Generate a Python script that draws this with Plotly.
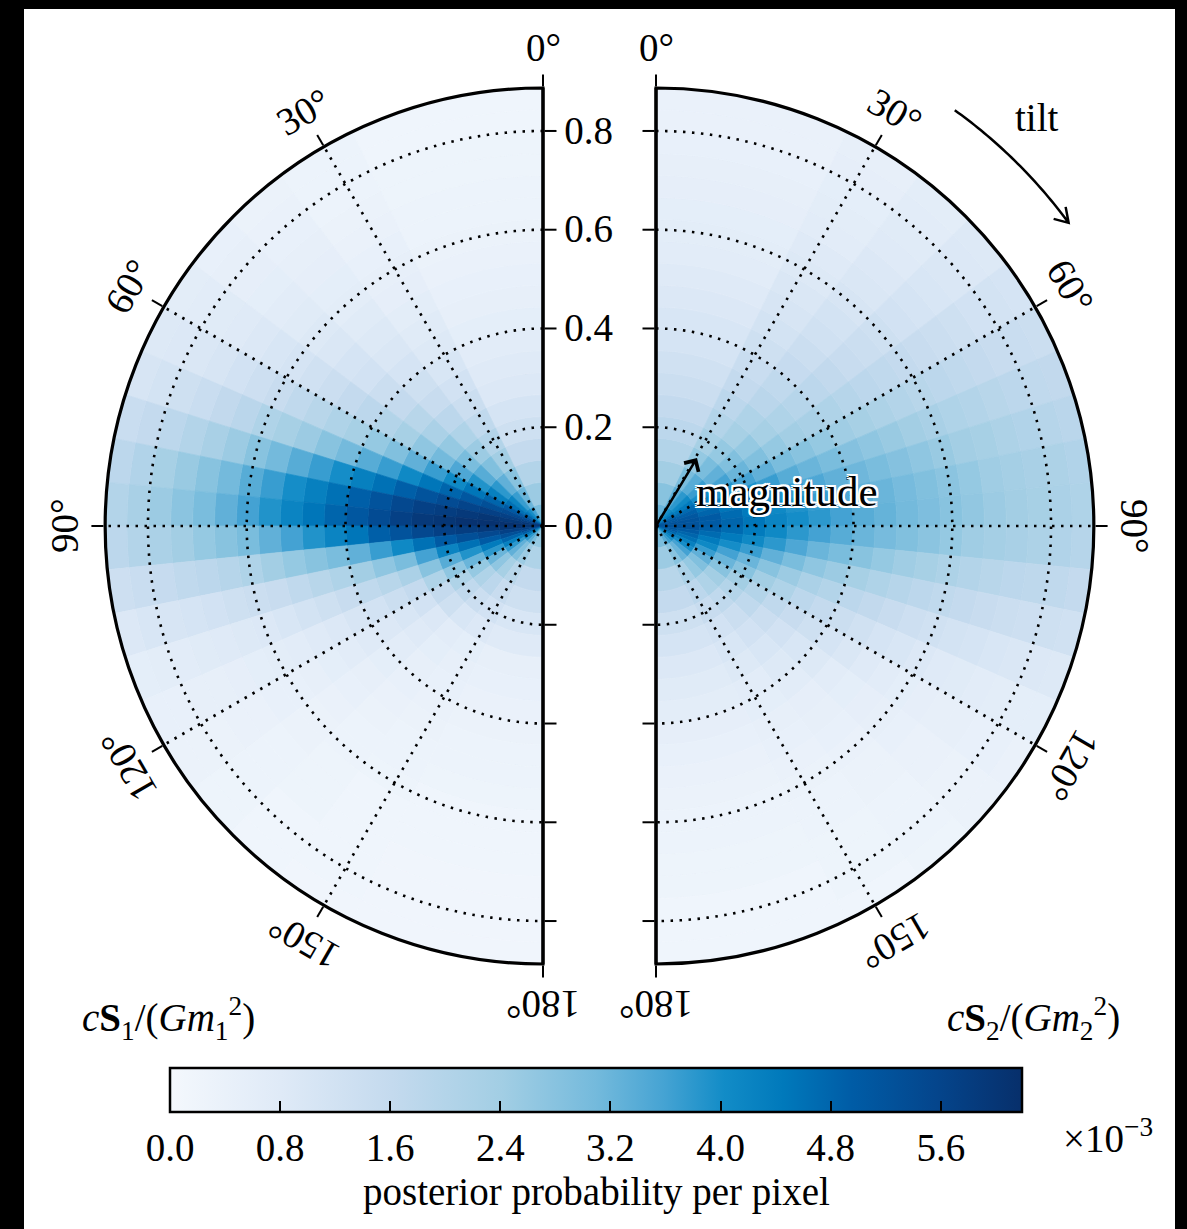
import numpy as np
import plotly.graph_objects as go
from plotly.colors import sample_colorscale

W, H = 1187, 1229

# ---------------- data ----------------
# pixel edges: uniform in cos(tilt) and in spin magnitude
cos_tilt_edges = [1.0, 0.9, 0.8, 0.7, 0.6, 0.5, 0.4, 0.3, 0.2, 0.1, 0.0,
                  -0.1, -0.2, -0.3, -0.4, -0.5, -0.6, -0.7, -0.8, -0.9, -1.0]
mag_max = 0.887
n_mag_bins = 20

# posterior probability per pixel (x 1e-3); rows = magnitude bins (inner->outer),
# columns = tilt bins (0 deg -> 180 deg)
s1_prob_e3 = [
    [3.0, 3.6, 4.0, 4.4, 4.8, 5.1, 5.4, 5.7, 5.9, 6.0, 5.9, 5.7, 5.4, 5.0, 4.6, 4.2, 3.8, 3.4, 3.0, 2.6],
    [2.5, 3.2, 3.7, 4.2, 4.6, 5.0, 5.4, 5.7, 5.9, 6.1, 6.0, 5.7, 5.3, 4.8, 4.3, 3.8, 3.3, 2.9, 2.5, 2.1],
    [2.0, 2.8, 3.3, 3.8, 4.3, 4.8, 5.3, 5.7, 6.0, 6.1, 5.9, 5.5, 5.0, 4.4, 3.8, 3.2, 2.7, 2.3, 1.9, 1.6],
    [1.6, 2.4, 2.9, 3.4, 3.9, 4.5, 5.1, 5.6, 5.9, 6.1, 5.8, 5.3, 4.6, 3.9, 3.2, 2.6, 2.1, 1.8, 1.5, 1.3],
    [1.3, 2.0, 2.5, 3.0, 3.5, 4.1, 4.8, 5.4, 5.8, 6.0, 5.7, 5.0, 4.2, 3.4, 2.7, 2.1, 1.7, 1.4, 1.2, 1.0],
    [1.1, 1.7, 2.1, 2.6, 3.1, 3.7, 4.5, 5.2, 5.7, 5.9, 5.5, 4.6, 3.6, 2.8, 2.1, 1.6, 1.3, 1.0, 0.9, 0.8],
    [0.9, 1.4, 1.8, 2.2, 2.7, 3.3, 4.1, 4.9, 5.5, 5.7, 5.2, 4.1, 3.0, 2.2, 1.6, 1.2, 0.9, 0.7, 0.6, 0.5],
    [0.8, 1.2, 1.5, 1.9, 2.3, 2.9, 3.7, 4.6, 5.2, 5.4, 4.9, 3.7, 2.7, 1.9, 1.4, 1.0, 0.8, 0.6, 0.5, 0.45],
    [0.7, 1.0, 1.3, 1.6, 2.0, 2.6, 3.4, 4.3, 4.9, 5.1, 4.5, 3.3, 2.4, 1.7, 1.2, 0.9, 0.7, 0.5, 0.45, 0.4],
    [0.6, 0.85, 1.1, 1.4, 1.8, 2.3, 3.1, 4.0, 4.6, 4.8, 4.2, 3.0, 2.1, 1.5, 1.05, 0.8, 0.6, 0.45, 0.4, 0.35],
    [0.5, 0.75, 0.95, 1.2, 1.6, 2.1, 2.8, 3.7, 4.3, 4.5, 3.9, 2.8, 1.9, 1.3, 0.9, 0.7, 0.5, 0.4, 0.35, 0.3],
    [0.45, 0.65, 0.85, 1.1, 1.4, 1.9, 2.5, 3.4, 4.0, 4.2, 3.6, 2.6, 1.7, 1.15, 0.8, 0.6, 0.45, 0.35, 0.3, 0.3],
    [0.4, 0.55, 0.75, 0.95, 1.25, 1.7, 2.3, 3.1, 3.7, 3.9, 3.3, 2.4, 1.5, 1.0, 0.7, 0.5, 0.4, 0.3, 0.3, 0.25],
    [0.35, 0.5, 0.65, 0.85, 1.1, 1.5, 2.1, 2.8, 3.4, 3.6, 3.0, 2.1, 1.4, 0.9, 0.65, 0.45, 0.35, 0.3, 0.25, 0.2],
    [0.3, 0.45, 0.6, 0.75, 1.0, 1.35, 1.85, 2.5, 3.1, 3.3, 2.8, 1.95, 1.3, 0.85, 0.6, 0.45, 0.35, 0.25, 0.2, 0.2],
    [0.3, 0.4, 0.55, 0.7, 0.9, 1.2, 1.65, 2.25, 2.8, 3.0, 2.6, 1.8, 1.2, 0.8, 0.55, 0.4, 0.3, 0.25, 0.2, 0.2],
    [0.25, 0.35, 0.5, 0.6, 0.8, 1.05, 1.45, 2.0, 2.55, 2.75, 2.4, 1.7, 1.1, 0.75, 0.5, 0.4, 0.3, 0.25, 0.2, 0.15],
    [0.25, 0.3, 0.45, 0.55, 0.75, 0.95, 1.3, 1.8, 2.3, 2.5, 2.2, 1.55, 1.05, 0.7, 0.5, 0.35, 0.3, 0.2, 0.2, 0.15],
    [0.2, 0.3, 0.4, 0.5, 0.7, 0.9, 1.15, 1.6, 2.05, 2.25, 2.0, 1.45, 1.0, 0.65, 0.45, 0.35, 0.25, 0.2, 0.2, 0.15],
    [0.2, 0.3, 0.35, 0.45, 0.65, 0.85, 1.05, 1.45, 1.8, 2.0, 1.8, 1.35, 0.9, 0.6, 0.45, 0.35, 0.25, 0.2, 0.15, 0.15],
]

s2_prob_e3 = [
    [3.2, 3.7, 4.0, 4.3, 4.6, 4.8, 5.0, 5.1, 5.2, 5.2, 5.2, 5.1, 5.0, 4.8, 4.6, 4.3, 4.0, 3.7, 3.4, 3.0],
    [2.8, 3.4, 3.8, 4.1, 4.4, 4.7, 4.9, 5.1, 5.2, 5.2, 5.2, 5.0, 4.8, 4.6, 4.3, 4.0, 3.6, 3.2, 2.8, 2.5],
    [2.4, 3.0, 3.4, 3.7, 4.0, 4.3, 4.6, 4.8, 5.0, 5.0, 4.9, 4.7, 4.4, 4.1, 3.7, 3.3, 2.9, 2.6, 2.2, 1.9],
    [2.0, 2.6, 3.0, 3.3, 3.6, 3.9, 4.3, 4.5, 4.7, 4.8, 4.7, 4.4, 4.0, 3.6, 3.2, 2.8, 2.4, 2.1, 1.8, 1.6],
    [1.8, 2.3, 2.6, 2.9, 3.2, 3.6, 4.0, 4.2, 4.4, 4.5, 4.4, 4.1, 3.7, 3.2, 2.8, 2.4, 2.0, 1.7, 1.5, 1.3],
    [1.6, 2.0, 2.3, 2.6, 2.9, 3.3, 3.7, 3.9, 4.1, 4.2, 4.1, 3.8, 3.3, 2.8, 2.4, 2.0, 1.7, 1.4, 1.2, 1.1],
    [1.4, 1.8, 2.1, 2.3, 2.6, 3.0, 3.4, 3.7, 3.9, 4.0, 3.8, 3.5, 3.0, 2.5, 2.1, 1.7, 1.4, 1.2, 1.0, 0.9],
    [1.25, 1.6, 1.85, 2.1, 2.4, 2.8, 3.2, 3.5, 3.7, 3.8, 3.6, 3.2, 2.7, 2.2, 1.8, 1.5, 1.2, 1.0, 0.85, 0.75],
    [1.1, 1.45, 1.7, 1.95, 2.25, 2.6, 3.0, 3.3, 3.5, 3.6, 3.4, 3.0, 2.5, 2.0, 1.6, 1.3, 1.0, 0.85, 0.7, 0.65],
    [1.0, 1.3, 1.55, 1.8, 2.1, 2.45, 2.85, 3.15, 3.35, 3.4, 3.2, 2.8, 2.3, 1.8, 1.4, 1.1, 0.85, 0.7, 0.6, 0.55],
    [0.9, 1.15, 1.4, 1.65, 1.95, 2.3, 2.7, 3.0, 3.2, 3.25, 3.05, 2.6, 2.1, 1.65, 1.25, 0.95, 0.7, 0.55, 0.5, 0.45],
    [0.8, 1.05, 1.25, 1.5, 1.8, 2.15, 2.55, 2.85, 3.05, 3.1, 2.9, 2.45, 1.95, 1.5, 1.1, 0.8, 0.6, 0.5, 0.45, 0.4],
    [0.7, 0.95, 1.15, 1.4, 1.7, 2.0, 2.4, 2.7, 2.9, 2.95, 2.75, 2.3, 1.8, 1.35, 1.0, 0.7, 0.55, 0.45, 0.4, 0.35],
    [0.65, 0.85, 1.05, 1.3, 1.6, 1.9, 2.25, 2.55, 2.75, 2.8, 2.6, 2.15, 1.7, 1.25, 0.9, 0.6, 0.5, 0.4, 0.35, 0.3],
    [0.6, 0.8, 0.95, 1.2, 1.5, 1.8, 2.1, 2.4, 2.6, 2.65, 2.45, 2.0, 1.6, 1.15, 0.8, 0.55, 0.45, 0.35, 0.3, 0.3],
    [0.55, 0.7, 0.9, 1.1, 1.4, 1.7, 2.0, 2.3, 2.45, 2.5, 2.35, 1.9, 1.5, 1.1, 0.75, 0.5, 0.4, 0.35, 0.3, 0.25],
    [0.5, 0.65, 0.8, 1.0, 1.3, 1.6, 1.9, 2.15, 2.35, 2.4, 2.25, 1.8, 1.4, 1.0, 0.7, 0.5, 0.4, 0.3, 0.25, 0.25],
    [0.45, 0.6, 0.75, 0.95, 1.2, 1.5, 1.8, 2.05, 2.25, 2.3, 2.15, 1.75, 1.35, 0.95, 0.65, 0.45, 0.35, 0.3, 0.25, 0.2],
    [0.4, 0.55, 0.7, 0.9, 1.15, 1.45, 1.7, 1.95, 2.15, 2.2, 2.05, 1.7, 1.3, 0.9, 0.6, 0.45, 0.35, 0.3, 0.25, 0.2],
    [0.4, 0.5, 0.65, 0.85, 1.1, 1.4, 1.65, 1.85, 2.05, 2.1, 1.95, 1.6, 1.25, 0.85, 0.6, 0.4, 0.35, 0.25, 0.2, 0.2],
]

tilt_ticks = [0, 30, 60, 90, 120, 150, 180]
tilt_labels = ["0°", "30°", "60°", "90°", "120°", "150°", "180°"]
mag_ticks = [0.0, 0.2, 0.4, 0.6, 0.8]
mag_labels = ["0.0", "0.2", "0.4", "0.6", "0.8"]
mag_grid = [0.2, 0.4, 0.6, 0.8]
tilt_grid = [30, 60, 90, 120, 150]
cbar_ticks = [0.0, 0.8, 1.6, 2.4, 3.2, 4.0, 4.8, 5.6]
cbar_labels = ["0.0", "0.8", "1.6", "2.4", "3.2", "4.0", "4.8", "5.6"]
cbar_max = 6.19

# ---------------- style / geometry ----------------
FONT = "Liberation Serif"
FS = 39
R_PX = 438
CY = 526
C1X, C2X = 543, 656
LABEL_R = 479

colorscale = [
    [0.00, "#f4f8fd"], [0.13, "#dfeaf7"], [0.26, "#c4daee"], [0.39, "#a2cee4"],
    [0.50, "#74badc"], [0.58, "#45a3d3"], [0.65, "#128cc7"], [0.72, "#0079bb"],
    [0.80, "#005ca6"], [0.90, "#04458c"], [1.00, "#072f6b"],
]

mag_edges = np.linspace(0.0, mag_max, n_mag_bins + 1)
theta_edges = np.degrees(np.arccos(np.array(cos_tilt_edges)))


def cells(prob):
    base, rr, th, wd, col = [], [], [], [], []
    for i in range(len(mag_edges) - 1):
        for j in range(len(theta_edges) - 1):
            base.append(mag_edges[i])
            rr.append(mag_edges[i + 1] - mag_edges[i])
            th.append(0.5 * (theta_edges[j] + theta_edges[j + 1]))
            wd.append(theta_edges[j + 1] - theta_edges[j])
            col.append(prob[i][j])
    return base, rr, th, wd, col


fig = go.Figure()

DOT = dict(color="black", width=2.6, dash="2.5px,6.5px")
for prob, sp in [(s1_prob_e3, "polar"), (s2_prob_e3, "polar2")]:
    base, rr, th, wd, col = cells(prob)
    line_cols = sample_colorscale(colorscale, [min(max(c / cbar_max, 0), 1) for c in col])
    fig.add_trace(go.Barpolar(
        r=rr, base=base, theta=th, width=wd, subplot=sp,
        marker=dict(color=col, coloraxis="coloraxis",
                    line=dict(width=0.7, color=line_cols)),
        hoverinfo="skip", showlegend=False))
    th_line = np.linspace(0, 180, 361)
    for g in mag_grid:
        fig.add_trace(go.Scatterpolar(
            r=[g] * len(th_line), theta=th_line, mode="lines", subplot=sp,
            line=DOT, hoverinfo="skip", showlegend=False))
    for t in tilt_grid:
        fig.add_trace(go.Scatterpolar(
            r=[0, mag_max], theta=[t, t], mode="lines", subplot=sp,
            line=DOT, hoverinfo="skip", showlegend=False))

for sp in ["polar3", "polar4"]:
    fig.add_trace(go.Scatterpolar(r=[0], theta=[0], mode="markers", subplot=sp,
                                  marker=dict(opacity=0), hoverinfo="skip", showlegend=False))


def px(x, y):
    return x / W, 1 - y / H


dom_y = [1 - (CY + R_PX) / H, 1 - (CY - R_PX) / H]
dom1 = dict(x=[(C1X - R_PX) / W, C1X / W], y=dom_y)
dom2 = dict(x=[C2X / W, (C2X + R_PX) / W], y=dom_y)

tickfont = dict(family=FONT, size=FS, color="black")


def angular(direction, show=True):
    return dict(rotation=90, direction=direction, showgrid=False, showline=show,
                linecolor="black", linewidth=3.2, ticks="outside" if show else "",
                ticklen=12, tickwidth=1.6, tickcolor="black",
                tickmode="array", tickvals=tilt_ticks, showticklabels=False,
                visible=show)


def radial(angle, side, labels):
    return dict(range=[0, mag_max], angle=angle, side=side, showgrid=False,
                showline=True, linecolor="black", linewidth=3,
                ticks="outside", ticklen=12, tickwidth=2, tickcolor="black",
                tickmode="array", tickvals=mag_ticks if labels else mag_grid,
                ticktext=mag_labels if labels else None,
                showticklabels=labels, tickfont=tickfont, tickangle=90)


fig.update_layout(
    width=W, height=H,
    margin=dict(l=0, r=0, t=0, b=0),
    paper_bgcolor="black",
    showlegend=False,
    font=dict(family=FONT, size=FS, color="black"),
    polar=dict(domain=dom1, sector=[90, 270], bgcolor="rgba(0,0,0,0)", bargap=0,
               angularaxis=angular("counterclockwise"),
               radialaxis=radial(90, "clockwise", True)),
    polar2=dict(domain=dom2, sector=[-90, 90], bgcolor="rgba(0,0,0,0)", bargap=0,
                angularaxis=angular("clockwise"),
                radialaxis=radial(90, "counterclockwise", False)),
    polar3=dict(domain=dom1, sector=[90, 270], bgcolor="rgba(0,0,0,0)",
                angularaxis=angular("counterclockwise", False),
                radialaxis=radial(270, "counterclockwise", False)),
    polar4=dict(domain=dom2, sector=[-90, 90], bgcolor="rgba(0,0,0,0)",
                angularaxis=angular("clockwise", False),
                radialaxis=radial(-90, "clockwise", False)),
    coloraxis=dict(
        cmin=0, cmax=cbar_max, colorscale=colorscale,
        colorbar=dict(
            orientation="h", x=596 / W, xanchor="center", len=852 / W, lenmode="fraction",
            y=1 - 1068 / H, yanchor="top", thickness=44, thicknessmode="pixels",
            xpad=0, ypad=0, outlinewidth=2.5, outlinecolor="black",
            ticks="inside", ticklen=12, tickwidth=1.6, tickcolor="black",
            tickmode="array", tickvals=cbar_ticks, ticktext=cbar_labels,
            tickfont=tickfont),
    ),
)

shapes = [dict(type="rect", xref="paper", yref="paper", x0=24 / W, x1=1175 / W,
               y0=0, y1=1 - 9 / H, fillcolor="white", line=dict(width=0), layer="below")]

# curved "tilt" arrow around the right disk
arc_r = 512
a = np.radians(np.linspace(35.7, 53.7, 40))
ax_px = C2X + arc_r * np.sin(a)
ay_px = CY - arc_r * np.cos(a)
path = "M " + " L ".join(f"{x / W:.5f},{1 - y / H:.5f}" for x, y in zip(ax_px, ay_px))
tipx, tipy = ax_px[-1], ay_px[-1]
path += f" M {(tipx - 15) / W:.5f},{1 - (tipy - 4) / H:.5f} L {tipx / W:.5f},{1 - tipy / H:.5f}"
path += f" L {(tipx - 3) / W:.5f},{1 - (tipy - 16) / H:.5f}"
shapes.append(dict(type="path", xref="paper", yref="paper", path=path,
                   line=dict(color="black", width=2.5)))


def ann(x, y, text, size=FS, **kw):
    xp, yp = px(x, y)
    d = dict(x=xp, y=yp, xref="paper", yref="paper", text=text, showarrow=False,
             xanchor="center", yanchor="middle",
             font=dict(family=FONT, size=size, color="black"))
    d.update(kw)
    return d


annotations = []
for t, lab in zip(tilt_ticks, tilt_labels):
    rad = np.radians(t)
    for cx, sgn in [(C1X, -1), (C2X, 1)]:
        x = cx + sgn * LABEL_R * np.sin(rad)
        y = CY - LABEL_R * np.cos(rad)
        annotations.append(ann(x, y, lab, textangle=sgn * t))

# magnitude arrow
hx, hy = px(697, 458)
annotations.append(dict(x=hx, y=hy, xref="paper", yref="paper", text="", showarrow=True,
                        ax=C2X - 697, ay=CY - 458, arrowhead=4, arrowsize=1.3, arrowwidth=2.5,
                        arrowcolor="black", standoff=0, startstandoff=0))
annotations.append(ann(787, 492, "magnitude", size=43,
                       font=dict(family=FONT, size=43, color="black",
                                 shadow="2px 2px 0 white, -2px -2px 0 white, 2px -2px 0 white, -2px 2px 0 white, 0 2px 0 white, 2px 0 0 white, 0 -2px 0 white, -2px 0 0 white")))
annotations.append(ann(1037, 117, "tilt"))

for (x, y), idx in [((168, 1018), 1), ((1033, 1018), 2)]:
    annotations.append(ann(x, y,
                           f"<i>c</i><b>S</b><sub>{idx}</sub>/(<i>Gm</i><sub>{idx}</sub><sup>2</sup>)"))

annotations.append(ann(1108, 1136, "×10<sup>−3</sup>"))
annotations.append(ann(597, 1192, "posterior probability per pixel"))

fig.update_layout(shapes=shapes, annotations=annotations)
fig.write_html("out.html", config={"displayModeBar": False},
               post_script="document.body.style.margin='0px';")
